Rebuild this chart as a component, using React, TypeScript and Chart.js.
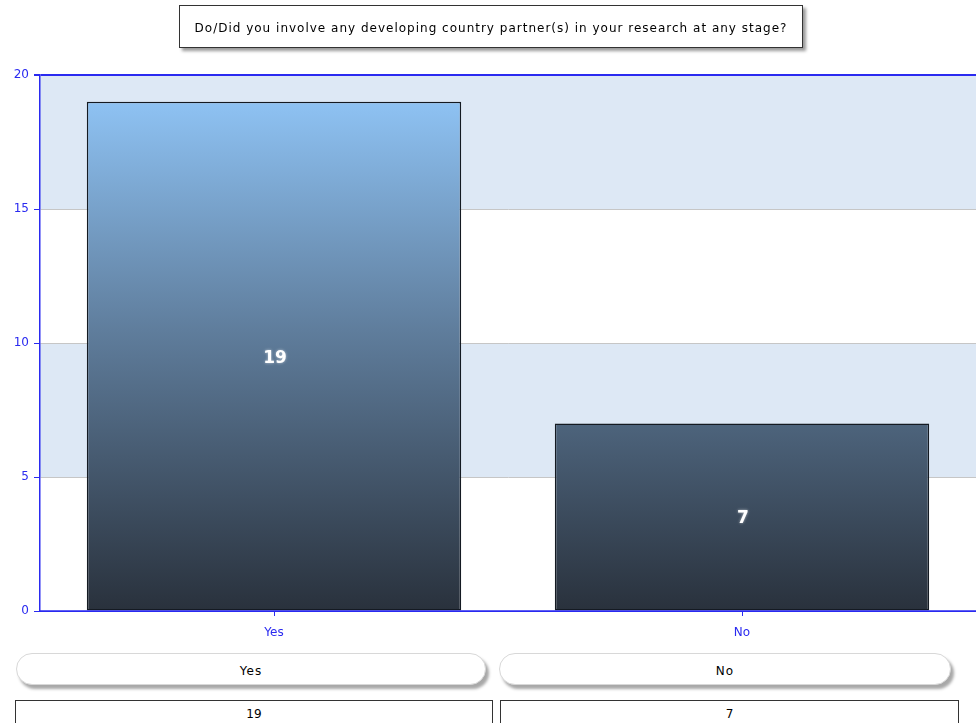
import React, { useEffect, useRef } from "react";
import { Chart, registerables } from "chart.js";

Chart.register(...registerables);

const title = "Do/Did you involve any developing country partner(s) in your research at any stage?";
const categories = ["Yes", "No"];
const counts = [19, 7];
const yTicks = [0, 5, 10, 15, 20];

const BLUE = "#2a2af0";

const bandsPlugin = {
  id: "bands",
  beforeDraw(chart: any) {
    const { ctx, chartArea, scales } = chart;
    const y = scales.y;
    ctx.save();
    ctx.fillStyle = "#dde8f5";
    const bands = [[15, 20], [5, 10]];
    for (const [a, b] of bands) {
      const top = y.getPixelForValue(b);
      const bot = y.getPixelForValue(a);
      ctx.fillRect(chartArea.left, top, chartArea.right - chartArea.left, bot - top);
    }
    ctx.restore();
  },
};

const labelPlugin = {
  id: "barLabels",
  afterDatasetsDraw(chart: any) {
    const { ctx } = chart;
    const meta = chart.getDatasetMeta(0);
    ctx.save();
    ctx.font = "bold 17px 'DejaVu Sans'";
    ctx.textAlign = "center";
    ctx.textBaseline = "middle";
    meta.data.forEach((el: any, i: number) => {
      const cy = (el.y + el.base) / 2;
      ctx.shadowColor = "rgba(255,255,255,0.6)";
      ctx.shadowBlur = 3;
      ctx.fillStyle = "#ffffff";
      ctx.fillText(String(counts[i]), el.x + 1, cy + 2);
    });
    ctx.restore();
  },
};

const baseLinePlugin = {
  id: "baseLine",
  afterDatasetsDraw(chart: any) {
    const { ctx, chartArea } = chart;
    ctx.save();
    ctx.strokeStyle = BLUE;
    ctx.lineWidth = 1.5;
    ctx.beginPath();
    ctx.moveTo(chartArea.left, chartArea.bottom);
    ctx.lineTo(chartArea.right, chartArea.bottom);
    ctx.stroke();
    ctx.restore();
  },
};

export default function App() {
  const ref = useRef<HTMLCanvasElement | null>(null);

  useEffect(() => {
    document.body.style.margin = "0";
    const canvas = ref.current!;
    const chart = new Chart(canvas, {
      type: "bar",
      data: {
        labels: categories,
        datasets: [
          {
            data: counts,
            barPercentage: 0.8,
            categoryPercentage: 1,
            borderColor: "#141a22",
            borderWidth: 1.5,
            borderSkipped: false,
            backgroundColor: (c: any) => {
              const { chart } = c;
              const { chartArea, scales } = chart;
              if (!chartArea) return "#5b7896";
              const top = scales.y.getPixelForValue(Math.max(...counts));
              const bot = scales.y.getPixelForValue(0);
              const g = chart.ctx.createLinearGradient(0, top, 0, bot);
              g.addColorStop(0, "#8ec2f3");
              g.addColorStop(0.45, "#5f7d9c");
              g.addColorStop(1, "#29313c");
              return g;
            },
          },
        ],
      },
      options: {
        responsive: false,
        devicePixelRatio: 1,
        animation: false,
        layout: { padding: { top: 75, left: 0, right: 0, bottom: 0 } },
        plugins: {
          legend: { display: false },
          tooltip: { enabled: false },
          title: { display: false },
        },
        scales: {
          x: {
            offset: true,
            grid: {
              offset: false,
              drawOnChartArea: false,
              drawTicks: true,
              tickLength: 5,
              tickColor: BLUE,
            },
            border: { color: BLUE, width: 1 },
            ticks: {
              color: BLUE,
              font: { family: "'DejaVu Sans'", size: 12 },
              padding: 10,
            },
            afterFit(s: any) {
              s.height = 34;
              s.paddingLeft = 0;
              s.paddingRight = 0;
            },
          },
          y: {
            min: 0,
            max: 20,
            afterBuildTicks(s: any) {
              s.ticks = yTicks.map((v) => ({ value: v }));
            },
            grid: {
              color: (c: any) => {
                const v = c.tick ? c.tick.value : 0;
                if (v === 20) return BLUE;
                if (v === 0) return BLUE;
                return "#c6c6c6";
              },
              lineWidth: (c: any) => (c.tick && c.tick.value === 20 ? 2 : 1),
              tickColor: BLUE,
              tickLength: 6,
            },
            border: { color: BLUE, width: 1.5 },
            ticks: {
              color: BLUE,
              font: { family: "'DejaVu Sans'", size: 12 },
              padding: 5,
            },
            afterFit(s: any) {
              s.width = 40;
              s.paddingTop = 0;
              s.paddingBottom = 0;
            },
          },
        },
      },
      plugins: [bandsPlugin, labelPlugin, baseLinePlugin],
    } as any);
    return () => chart.destroy();
  }, []);

  const font = "'DejaVu Sans', Verdana, sans-serif";

  const pill = (left: number, width: number, text: string) => (
    <div
      style={{
        position: "absolute",
        left,
        top: 653,
        width,
        height: 32,
        borderRadius: 16,
        border: "1px solid #d8d8d8",
        background: "#fff",
        boxShadow: "3px 4px 3px #a8a8a8",
        display: "flex",
        alignItems: "center",
        justifyContent: "center",
        fontFamily: font,
        fontSize: 12,
        letterSpacing: 1,
        color: "#000",
        boxSizing: "border-box",
        paddingTop: 4,
      }}
    >
      {text}
    </div>
  );

  const cell = (left: number, width: number, text: string) => (
    <div
      style={{
        position: "absolute",
        left,
        top: 700,
        width,
        height: 40,
        border: "1px solid #333",
        background: "#fff",
        fontFamily: font,
        fontSize: 12,
        color: "#000",
        textAlign: "center",
        lineHeight: "26px",
        boxSizing: "border-box",
      }}
    >
      {text}
    </div>
  );

  return (
    <div style={{ position: "relative", width: 976, height: 723, overflow: "hidden", background: "#fff" }}>
      <canvas ref={ref} width={976} height={645} style={{ position: "absolute", left: 0, top: 0 }} />
      <div
        style={{
          position: "absolute",
          left: 179,
          top: 5,
          width: 624,
          height: 43,
          border: "1px solid #333",
          background: "#fff",
          boxShadow: "3px 3px 3px #9a9a9a",
          boxSizing: "border-box",
          display: "flex",
          alignItems: "center",
          justifyContent: "center",
          fontFamily: font,
          fontSize: 12,
          letterSpacing: 1,
          color: "#000",
          paddingTop: 3,
        }}
      >
        {title}
      </div>
      {pill(16, 470, categories[0])}
      {pill(499, 452, categories[1])}
      {cell(15, 478, String(counts[0]))}
      {cell(500, 459, String(counts[1]))}
    </div>
  );
}
